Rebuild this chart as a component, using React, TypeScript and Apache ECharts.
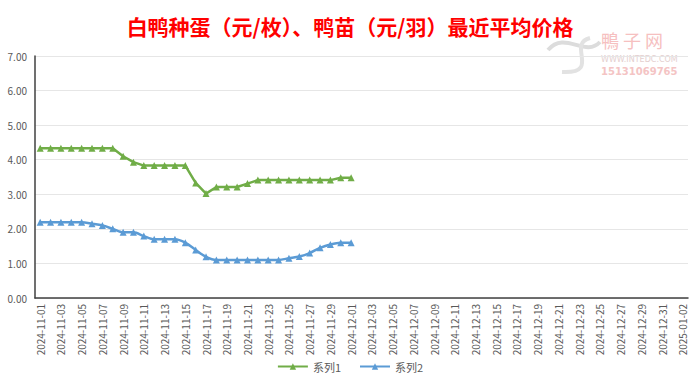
import React, { useEffect, useRef } from "react";
import * as echarts from "echarts";

const TITLE = "白鸭种蛋（元/枚）、鸭苗（元/羽）最近平均价格";
const SERIES1_NAME = "系列1";
const SERIES2_NAME = "系列2";

function buildDates(): string[] {
  const out: string[] = [];
  const start = Date.UTC(2024, 10, 1);
  for (let i = 0; i < 63; i++) {
    const d = new Date(start + i * 86400000);
    const y = d.getUTCFullYear();
    const m = String(d.getUTCMonth() + 1).padStart(2, "0");
    const dd = String(d.getUTCDate()).padStart(2, "0");
    out.push(`${y}-${m}-${dd}`);
  }
  return out;
}
const dates = buildDates();

const series1 = [
  4.33, 4.33, 4.33, 4.33, 4.33, 4.33, 4.33, 4.33, 4.1, 3.93,
  3.83, 3.83, 3.83, 3.83, 3.83, 3.33, 3.02, 3.21, 3.21, 3.21,
  3.31, 3.41, 3.41, 3.41, 3.41, 3.41, 3.41, 3.41, 3.41, 3.48, 3.48,
];
const series2 = [
  2.19, 2.19, 2.19, 2.19, 2.19, 2.15, 2.1, 2.0, 1.9, 1.9,
  1.79, 1.7, 1.7, 1.7, 1.6, 1.39, 1.19, 1.1, 1.1, 1.1,
  1.1, 1.1, 1.1, 1.1, 1.15, 1.2, 1.3, 1.45, 1.55, 1.6, 1.6,
];

export default function App() {
  const ref = useRef<HTMLDivElement>(null);
  useEffect(() => {
    if (!ref.current) return;
    const chart = echarts.init(ref.current, null, { renderer: "svg" });
    const font = "'Microsoft YaHei', 'Noto Sans CJK SC', sans-serif";
    chart.setOption({
      animation: false,
      backgroundColor: "#ffffff",
      title: {
        text: TITLE,
        left: "center",
        top: 10,
        textStyle: { color: "#ff0000", fontSize: 21, fontWeight: "bold", fontFamily: font },
      },
      graphic: [
        {
          type: "bezierCurve",
          shape: { x1: 548, y1: 50, x2: 600, y2: 42, cpx1: 565, cpy1: 30, cpx2: 585, cpy2: 58 },
          style: { stroke: "#dcdcdc", lineWidth: 4, fill: "none" },
          silent: true,
        },
        {
          type: "bezierCurve",
          shape: { x1: 562, y1: 72, x2: 590, y2: 38, cpx1: 602, cpy1: 74, cpx2: 566, cpy2: 44 },
          style: { stroke: "#e2e2e2", lineWidth: 4, fill: "none" },
          silent: true,
        },
        {
          type: "text",
          left: 601,
          top: 31,
          style: { text: "鴨 子 网", fill: "#f6c0c0", font: "18px 'Noto Sans CJK TC', sans-serif" },
        },
        {
          type: "text",
          left: 601,
          top: 55,
          style: { text: "WWW.INTEDC.COM", fill: "#e4cfcf", font: "8px 'DejaVu Sans', sans-serif" },
        },
        {
          type: "text",
          left: 601,
          top: 66,
          style: { text: "15131069765", fill: "#f4c4c4", font: "bold 10px 'DejaVu Sans', sans-serif" },
        },
      ],
      legend: {
        bottom: 8,
        left: "center",
        itemWidth: 30,
        itemHeight: 8,
        itemGap: 18,
        textStyle: { color: "#595959", fontSize: 11, fontFamily: font },
        data: [SERIES1_NAME, SERIES2_NAME],
      },
      grid: { left: 35, right: 12, top: 56, bottom: 87 },
      xAxis: {
        type: "category",
        data: dates,
        boundaryGap: true,
        axisLine: { lineStyle: { color: "#404040", width: 1.5 } },
        axisTick: { show: false },
        axisLabel: {
          interval: 1,
          rotate: 90,
          color: "#595959",
          fontSize: 10,
          margin: 6,
          fontFamily: font,
          showMaxLabel: true,
        },
      },
      yAxis: {
        type: "value",
        min: 0,
        max: 7,
        interval: 1,
        axisLine: { show: true, lineStyle: { color: "#404040", width: 1.5 } },
        axisTick: { show: false },
        splitLine: { lineStyle: { color: "#e6e6e6" } },
        axisLabel: {
          color: "#595959",
          fontSize: 10,
          margin: 8,
          fontFamily: font,
          formatter: (v: number) => v.toFixed(2),
        },
      },
      series: [
        {
          name: SERIES1_NAME,
          type: "line",
          data: series1,
          symbol: "triangle",
          symbolSize: 7,
          showAllSymbol: true,
          lineStyle: { color: "#70ad47", width: 2.5 },
          itemStyle: { color: "#70ad47" },
        },
        {
          name: SERIES2_NAME,
          type: "line",
          data: series2,
          smooth: 0.3,
          symbol: "triangle",
          symbolSize: 7,
          showAllSymbol: true,
          lineStyle: { color: "#5b9bd5", width: 2.5 },
          itemStyle: { color: "#5b9bd5" },
        },
      ],
    });
    return () => chart.dispose();
  }, []);
  return (
    <div
      ref={ref}
      style={{ position: "absolute", left: 0, top: 0, width: 700, height: 385 }}
    />
  );
}
